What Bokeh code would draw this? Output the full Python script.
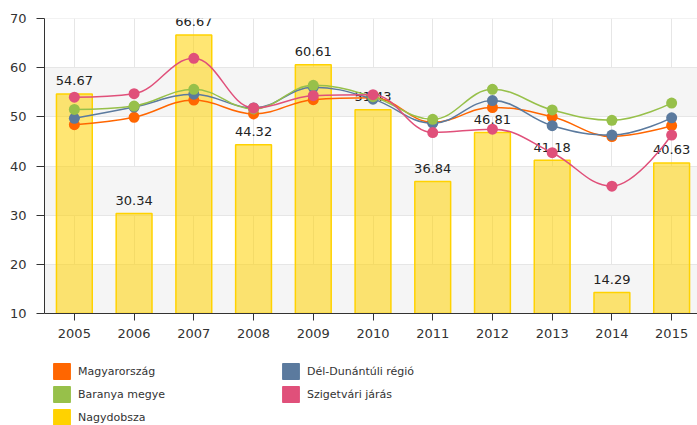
import numpy as np
from bokeh.plotting import figure
from bokeh.layouts import column
from bokeh.models import ColumnDataSource, Legend, LegendItem, FixedTicker, Range1d
from bokeh.embed import file_html
from bokeh.resources import INLINE
from bokeh.core.properties import value

# ---------------- data ----------------
years = [2005, 2006, 2007, 2008, 2009, 2010, 2011, 2012, 2013, 2014, 2015]
year_labels = ["2005", "2006", "2007", "2008", "2009", "2010", "2011", "2012", "2013", "2014", "2015"]
y_ticks = [10, 20, 30, 40, 50, 60, 70]

nagydobsza = [54.67, 30.34, 66.67, 44.32, 60.61, 51.43, 36.84, 46.81, 41.18, 14.29, 40.63]
magyarorszag = [48.4, 49.9, 53.4, 50.6, 53.5, 53.9, 48.9, 51.9, 50.0, 46.0, 48.2]
del_dunantuli = [49.7, 52.0, 54.6, 51.8, 56.0, 53.6, 48.7, 53.3, 48.2, 46.3, 49.8]
baranya = [51.5, 52.2, 55.6, 51.6, 56.4, 54.1, 49.5, 55.6, 51.4, 49.3, 52.8]
szigetvari = [54.0, 54.7, 61.9, 51.8, 54.3, 54.5, 46.8, 47.5, 42.7, 35.9, 46.3]

series_names = ["Magyarország", "Dél-Dunántúli régió", "Baranya megye", "Szigetvári járás", "Nagydobsza"]
colors = ["#FF6600", "#5B7A9E", "#97C04A", "#E0507A", "#FFD200"]

FONT = "DejaVu Sans"
TEXT = "#333333"


def spline_segments(xs, ys, smoothing=1.5):
    """Bezier control points of a smoothed line through the points (Highcharts-style spline)."""
    xs = [float(v) for v in xs]
    ys = [float(v) for v in ys]
    n = len(xs)
    denom = smoothing + 1
    lcx, lcy, rcx, rcy = list(xs), list(ys), list(xs), list(ys)
    for i in range(1, n - 1):
        px, py = xs[i], ys[i]
        lx, ly = xs[i - 1], ys[i - 1]
        nx, ny = xs[i + 1], ys[i + 1]
        lX = (smoothing * px + lx) / denom
        lY = (smoothing * py + ly) / denom
        rX = (smoothing * px + nx) / denom
        rY = (smoothing * py + ny) / denom
        corr = 0.0
        if rX != lX:
            corr = ((rY - lY) * (rX - px)) / (rX - lX) + py - rY
        lY += corr
        rY += corr
        if lY > ly and lY > py:
            lY = max(ly, py)
            rY = 2 * py - lY
        elif lY < ly and lY < py:
            lY = min(ly, py)
            rY = 2 * py - lY
        if rY > ny and rY > py:
            rY = max(ny, py)
            lY = 2 * py - rY
        elif rY < ny and rY < py:
            rY = min(ny, py)
            lY = 2 * py - rY
        lcx[i], lcy[i], rcx[i], rcy[i] = lX, lY, rX, rY
    return dict(
        x0=xs[:-1], y0=ys[:-1], x1=xs[1:], y1=ys[1:],
        cx0=rcx[:-1], cy0=rcy[:-1], cx1=lcx[1:], cy1=lcy[1:],
    )


# ---------------- main chart ----------------
p = figure(
    width=697, height=345,
    x_range=Range1d(2004.5, 2015.433),
    y_range=Range1d(y_ticks[0], y_ticks[-1] + 0.001),
    output_backend="svg", toolbar_location=None,
    min_border_left=44, min_border_right=0, min_border_top=18, min_border_bottom=32,
)
p.outline_line_color = None
p.background_fill_color = "white"
p.border_fill_color = "white"

# grids (first tick repeated so that the shaded bands start with the lowest band)
p.xgrid.ticker = FixedTicker(ticks=years)
p.ygrid.ticker = FixedTicker(ticks=[y_ticks[0]] + y_ticks)
p.xgrid.grid_line_color = "#e6e6e6"
p.ygrid.grid_line_color = "#e6e6e6"
p.ygrid.band_fill_color = "#f5f5f5"
p.ygrid.band_fill_alpha = 1.0

# axes
p.xaxis.ticker = FixedTicker(ticks=years)
p.xaxis.major_label_overrides = {y: l for y, l in zip(years, year_labels)}
p.yaxis.ticker = FixedTicker(ticks=y_ticks)
for ax in (p.xaxis[0], p.yaxis[0]):
    ax.axis_line_color = "#333333"
    ax.major_tick_line_color = "#333333"
    ax.minor_tick_line_color = None
    ax.major_tick_in = 0
    ax.major_label_text_font = FONT
    ax.major_label_text_font_size = "13px"
    ax.major_label_text_color = TEXT
p.yaxis.major_tick_out = 8
p.yaxis.major_label_standoff = 10
p.xaxis.major_tick_out = 7
p.xaxis.major_label_standoff = 8

# bars
bar_src = ColumnDataSource(dict(x=years, top=nagydobsza))
p.vbar(x="x", top="top", bottom=y_ticks[0], width=0.6, source=bar_src,
       fill_color=colors[4], fill_alpha=0.55, line_color=colors[4], line_width=1.5)

# bar labels
p.text(x=years, y=nagydobsza, text=[f"{v:.2f}" for v in nagydobsza],
       text_align="center", text_baseline="alphabetic", y_offset=-13,
       text_font=value(FONT), text_font_size="13px", text_color="#222222")

# spline lines with markers
line_series = [magyarorszag, del_dunantuli, baranya, szigetvari]
for vals, col in zip(line_series, colors[:4]):
    seg = ColumnDataSource(spline_segments(years, vals))
    p.bezier(x0="x0", y0="y0", x1="x1", y1="y1", cx0="cx0", cy0="cy0",
             cx1="cx1", cy1="cy1", source=seg, line_color=col, line_width=1.5)
    p.scatter(x=years, y=vals, size=11, fill_color=col, line_color=col, line_width=0)

# ---------------- legend strip ----------------
lg_fig = figure(
    width=697, height=80, x_range=Range1d(0, 1), y_range=Range1d(0, 1),
    x_axis_type=None, y_axis_type=None,
    output_backend="svg", toolbar_location=None,
    min_border_left=0, min_border_right=0, min_border_top=0, min_border_bottom=0,
)
lg_fig.outline_line_color = None
lg_fig.xgrid.visible = False
lg_fig.ygrid.visible = False

# legend swatch renderers (a single NaN placeholder so nothing is drawn in the strip itself)
nan = float("nan")
swatches = {}
for name, col in zip(series_names, colors):
    swatches[name] = lg_fig.quad(left=[nan], right=[nan], top=[nan], bottom=[nan],
                                 fill_color=col, line_color=col)


def make_legend(names, loc):
    lg = Legend(
        items=[LegendItem(label=n, renderers=[swatches[n]]) for n in names],
        location=loc, orientation="vertical",
        glyph_width=21, glyph_height=20, label_standoff=6, spacing=3,
        padding=0, margin=0, border_line_alpha=0, background_fill_alpha=0,
        label_text_font=FONT, label_text_font_size="11px", label_text_color=TEXT,
        label_height=20,
    )
    lg_fig.add_layout(lg, "center")


make_legend([series_names[0], series_names[2], series_names[4]], (7, -2))
make_legend([series_names[1], series_names[3]], (236, 21))

layout = column(p, lg_fig, spacing=0)
open("out.html", "w").write(file_html(layout, INLINE))
